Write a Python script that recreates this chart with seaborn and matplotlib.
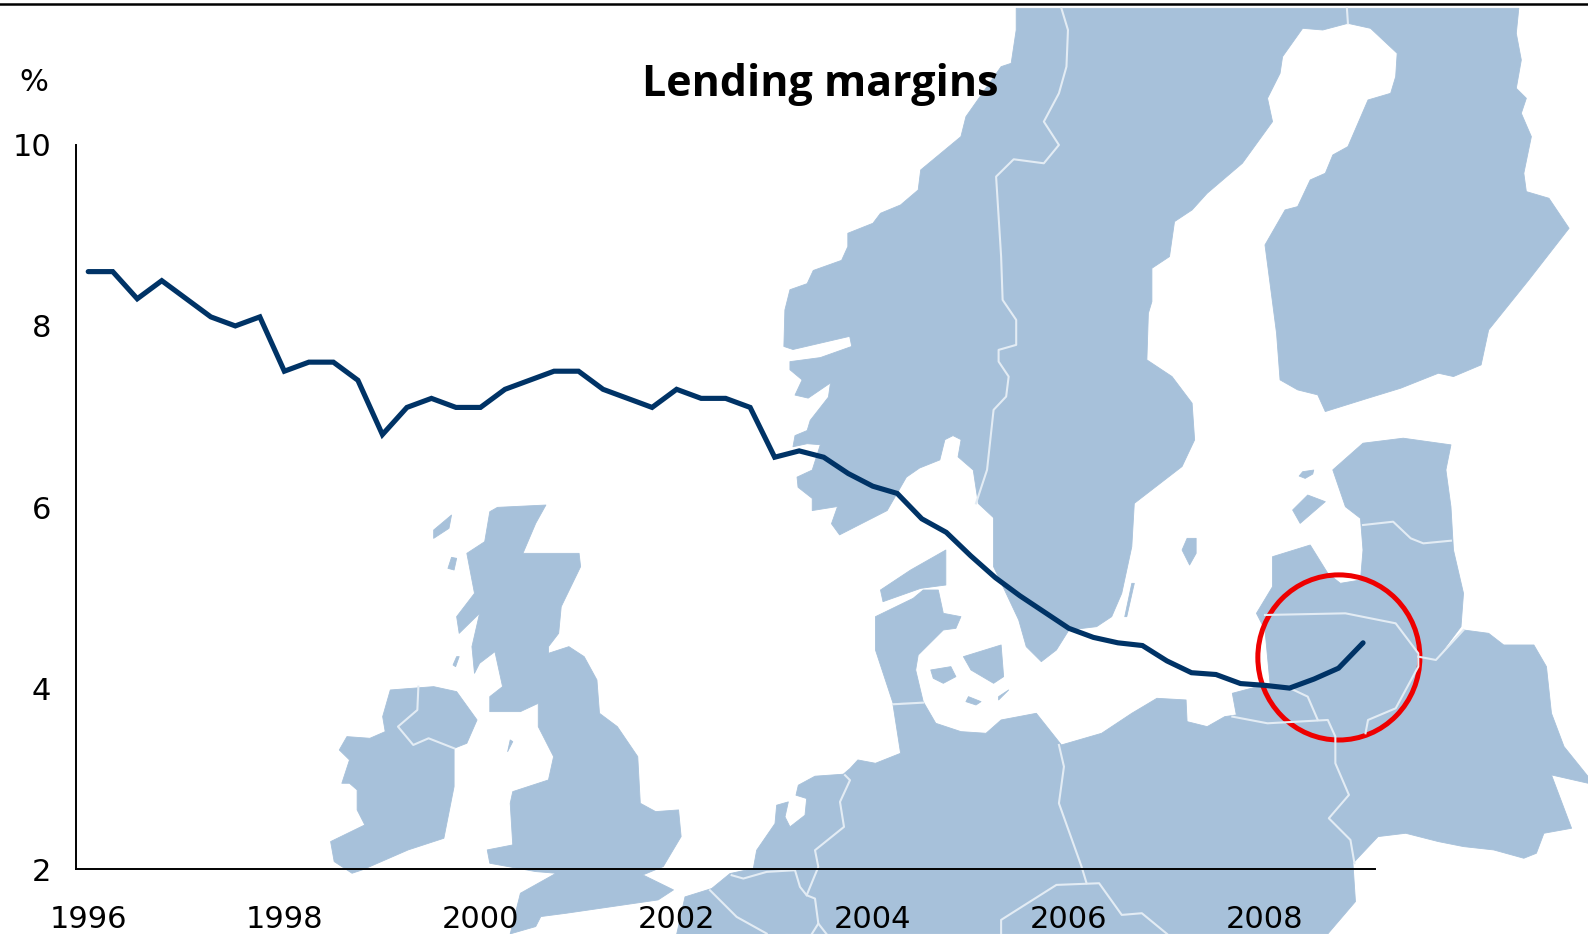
import numpy as np
import matplotlib
matplotlib.use('Agg')
import matplotlib.pyplot as plt
from matplotlib.patches import Polygon, Ellipse
import pandas as pd
import seaborn as sns

# Chart data, quarterly
years = [1996 + i * 0.25 for i in range(53)]
margins = [8.6, 8.6, 8.3, 8.5, 8.3, 8.1, 8.0, 8.1, 7.5, 7.6, 7.6, 7.4, 6.8,
           7.1, 7.2, 7.1, 7.1, 7.3, 7.4, 7.5, 7.5, 7.3, 7.2, 7.1, 7.3, 7.2,
           7.2, 7.1, 6.55, 6.62, 6.55, 6.37, 6.23, 6.15, 5.87, 5.72, 5.46,
           5.22, 5.02, 4.84, 4.66, 4.56, 4.5, 4.47, 4.3, 4.17, 4.15, 4.05,
           4.03, 4.0, 4.1, 4.22, 4.5]
x_ticks = [1996, 1998, 2000, 2002, 2004, 2006, 2008]
y_ticks = [2, 4, 6, 8, 10]

MAP_BLUE = '#a7c1da'
BORDER = '#e3ecf4'
LINE_BLUE = '#003366'
W, H = 1568, 922


def upper(pts):
    return [(790 + x / 2.015, y / 3.04) for x, y in pts]


def lower(pts):
    return [(790 + x / 2.015, 464 + y / 3.04) for x, y in pts]


def west(pts):
    return [(x / 1.985, 464 + y / 3.04) for x, y in pts]


def benelux(pts):
    return [((640 + x / 3) / 1.01276, (760 + y / 3) / 1.01276) for x, y in pts]


nordic = (
    upper([(430, 25), (1430, 25), (1425, 100), (1435, 180), (1425, 265), (1445, 295),
           (1435, 340), (1455, 410), (1440, 520), (1445, 575), (1490, 595), (1530, 685),
           (1450, 840), (1370, 990), (1355, 1095), (1300, 1130), (1270, 1120), (1195, 1165),
           (1130, 1195), (1045, 1235), (1030, 1185), (990, 1170), (955, 1140), (948, 1000),
           (925, 735), (965, 630), (990, 620), (1015, 540), (1045, 520), (1060, 465),
           (1090, 440), (1130, 300), (1175, 280), (1185, 230), (1188, 160), (1135, 85),
           (1090, 70), (1040, 90), (1000, 85), (960, 170), (955, 220), (930, 295),
           (940, 365), (880, 490), (810, 580), (780, 630), (745, 665), (735, 770),
           (700, 805), (700, 905), (693, 940), (690, 1080), (740, 1130), (780, 1210),
           (785, 1320), (760, 1400)])
    + lower([(665, 100), (660, 230), (640, 370), (620, 440), (590, 470), (535, 480),
             (510, 540), (480, 575), (450, 530), (435, 450), (385, 290), (385, 140)])
    + [(981, 511), (966, 497), (961, 464), (946, 451), (949, 434), (941, 430), (933, 434),
       (928, 454), (908, 462), (895, 471), (876, 504), (829, 528), (821, 517), (827, 500),
       (802, 504), (802, 492), (788, 481), (787, 471), (802, 464), (810, 439), (797, 438),
       (783, 441), (785, 430), (797, 425), (800, 415), (818, 392), (820, 378), (798, 393),
       (785, 390), (792, 375), (780, 365), (780, 357), (810, 353), (841, 342), (839, 332),
       (783, 345), (774, 342), (775, 306), (780, 286), (797, 280), (803, 267), (831, 257)]
    + upper([(95, 740), (95, 700), (145, 670), (160, 640), (200, 615), (235, 570), (240, 510),
             (320, 410), (330, 350), (400, 200), (420, 190), (430, 90)])
)

continent = (
    lower([(185, 705), (245, 695), (270, 760), (320, 785), (370, 790), (400, 750), (470, 730),
           (520, 825), (600, 790), (660, 730), (710, 685), (768, 690), (770, 755), (810, 770),
           (845, 740), (868, 735), (860, 670), (935, 640), (925, 480), (908, 430), (940, 350),
           (940, 260), (1015, 225), (1050, 310), (1075, 340), (1115, 330), (1120, 240),
           (1115, 145), (1085, 110), (1060, 0)])
    + upper([(1060, 1410), (1120, 1330), (1200, 1315), (1295, 1335), (1285, 1410)])
    + lower([(1285, 0), (1295, 110), (1300, 240), (1320, 370), (1315, 470), (1265, 570),
             (1320, 480), (1370, 490), (1400, 525), (1460, 525), (1485, 590), (1495, 730),
             (1520, 830), (1568, 920), (1568, 940), (1495, 915), (1535, 1075), (1480, 1090),
             (1465, 1150), (1440, 1165), (1380, 1140), (1320, 1130), (1270, 1115), (1205, 1090),
             (1150, 1100), (1100, 1180), (1105, 1295), (1050, 1392), (0, 1392)])
    + benelux([(110, 522), (135, 410), (215, 385), (270, 340), (340, 325), (350, 270), (405, 190),
               (410, 135), (445, 125), (435, 170), (450, 200), (495, 165), (500, 115), (468, 105),
               (475, 75), (525, 48), (610, 42), (630, 25)])
    + lower([(115, 870), (150, 880), (200, 850)])
)

jutland = lower([(185, 700), (150, 540), (150, 440), (225, 385), (245, 360), (275, 360),
                 (285, 430), (320, 440), (310, 475), (285, 480), (235, 555), (230, 600),
                 (245, 695)])
vendsyssel = lower([(165, 395), (160, 360), (220, 300), (290, 240), (290, 345), (240, 355)])
zealand = lower([(325, 560), (400, 525), (405, 620), (385, 640), (340, 600)])
funen = lower([(260, 600), (300, 590), (310, 620), (285, 640), (265, 625)])
lolland = lower([(335, 680), (360, 695), (350, 705), (330, 695)])
falster = lower([(395, 680), (415, 660), (395, 690)])
gotland = lower([(770, 205), (788, 205), (788, 250), (775, 285), (760, 240)])
oland = lower([(665, 340), (650, 440), (646, 440), (660, 340)])
saaremaa = lower([(1010, 75), (1045, 95), (995, 160), (980, 120)])
hiiumaa = lower([(1000, 5), (1022, 0), (1020, 12), (1005, 25), (993, 18)])

britain = west([(975, 112), (1070, 105), (1050, 160), (1025, 250), (1135, 250), (1138, 290),
                (1100, 410), (1095, 490), (1075, 530), (1075, 550), (1115, 530), (1145, 560),
                (1170, 630), (1175, 730), (1210, 770), (1250, 860), (1255, 1000), (1285, 1025),
                (1330, 1020), (1335, 1100), (1300, 1190), (1260, 1215), (1320, 1260), (1290, 1290),
                (1200, 1310), (1110, 1330), (1060, 1340), (1050, 1370), (1000, 1392), (1020, 1270),
                (1090, 1210), (1050, 1205), (960, 1180), (955, 1140), (1005, 1125), (1000, 1000),
                (1005, 965), (1075, 930), (1085, 860), (1055, 770), (1055, 700), (1020, 725),
                (960, 725), (960, 680), (985, 650), (970, 545), (940, 580), (930, 610), (925, 530),
                (940, 430), (900, 490), (895, 440), (930, 370), (915, 250), (950, 215), (960, 125)])
ireland = west([(765, 660), (850, 650), (895, 665), (935, 750), (915, 820), (890, 835), (890, 950),
                (870, 1105), (800, 1140), (710, 1200), (690, 1210), (655, 1175), (648, 1115),
                (715, 1065), (700, 1020), (700, 960), (685, 940), (670, 940), (685, 870), (665, 840),
                (680, 800), (725, 805), (755, 785), (750, 740)])
isle_a = west([(885, 135), (880, 175), (850, 205), (850, 180)])
isle_b = west([(885, 262), (895, 265), (890, 300), (878, 295)])
isle_c = west([(895, 560), (900, 560), (893, 590), (888, 585)])
isle_d = west([(1000, 810), (1005, 815), (995, 845)])

land = [nordic, continent, jutland, vendsyssel, zealand, funen, lolland, falster, gotland,
        oland, saaremaa, hiiumaa, britain, ireland, isle_a, isle_b, isle_c, isle_d]

borders = [
    upper([(520, 25), (533, 90), (530, 200), (515, 280), (485, 365), (515, 435), (485, 490),
           (425, 478), (390, 530), (400, 770), (403, 900), (430, 960), (430, 1035), (395, 1050),
           (395, 1085), (415, 1130), (410, 1190), (385, 1230), (372, 1410)]) + lower([(350, 100)]),
    upper([(1088, 25), (1090, 70)]),
    lower([(1120, 165), (1180, 155), (1215, 205), (1240, 220), (1295, 212)]),
    lower([(925, 435), (1085, 430), (1185, 460), (1230, 550), (1230, 590), (1185, 715),
           (1130, 750), (1125, 790)]),
    lower([(975, 655), (1010, 680), (1030, 750)]),
    lower([(860, 740), (930, 760), (1050, 750), (1065, 800), (1065, 880), (1092, 975),
           (1052, 1045), (1095, 1110), (1103, 1180)]),
    lower([(1230, 560), (1265, 570), (1320, 480)]),
    lower([(515, 825), (525, 890), (515, 1000), (560, 1190), (570, 1240)]),
    lower([(400, 1392), (400, 1350), (510, 1245), (595, 1240), (640, 1335), (680, 1330), (730, 1392)]),
    lower([(185, 703), (245, 698)]),
    west([(820, 650), (818, 720), (780, 770), (810, 825), (840, 805), (890, 835)]),
    benelux([(615, 45), (630, 60), (600, 125), (612, 200), (525, 270), (535, 320), (500, 405),
             (525, 415), (535, 490), (515, 522)]),
    benelux([(535, 490), (560, 522)]),
    benelux([(275, 345), (310, 355), (380, 335), (465, 330), (480, 380), (500, 405)]),
    benelux([(210, 390), (290, 470), (380, 520)]),
]

fig = plt.figure(figsize=(15.88, 9.34), dpi=100)

# Map behind the chart, in page coordinates
bg = fig.add_axes([0, 0, 1, 1])
bg.set_xlim(0, W)
bg.set_ylim(H, 0)
bg.axis('off')
for outline in land:
    bg.add_patch(Polygon(outline, closed=True, facecolor=MAP_BLUE, edgecolor=MAP_BLUE,
                         lw=0.6, joinstyle='round'))
for b in borders:
    bg.plot(*zip(*b), color=BORDER, lw=1.5)
bg.plot([0, W], [4, 4], color='black', lw=1.8, clip_on=False)

# Chart axes
ax = fig.add_axes([75 / W, 1 - 858 / H, (1358 - 75) / W, (858 - 143) / H])
ax.patch.set_alpha(0)
df = pd.DataFrame({'year': years, 'margin': margins})
sns.lineplot(data=df, x='year', y='margin', ax=ax, color=LINE_BLUE, lw=3.7,
             solid_capstyle='round', solid_joinstyle='miter', errorbar=None)
ax.set_xlim(1996 - 0.125, 2009 + 0.125)
ax.set_ylim(2, 10)
ax.set_xticks(x_ticks)
ax.set_yticks(y_ticks)
ax.set_xlabel('')
ax.set_ylabel('')
ax.tick_params(length=0, labelsize=22)
ax.tick_params(axis='x', pad=25.5)
ax.tick_params(axis='y', pad=18)
sns.despine(ax=ax)
for side in ['left', 'bottom']:
    ax.spines[side].set_linewidth(1.4)

# Highlight around the latest figures
bg.add_patch(Ellipse((1322, 649), 160, 163, fill=False, edgecolor='#ee0000', lw=3.6))
bg.set_zorder(0)
ax.set_zorder(1)

fig.text(810 / W, 1 - 83 / H, 'Lending margins', ha='center', va='center',
         fontsize=31, fontweight='bold', family='Open Sans')
fig.text(33 / W, 1 - 81 / H, '%', ha='center', va='center', fontsize=22)

plt.savefig('out.png', dpi=100)
